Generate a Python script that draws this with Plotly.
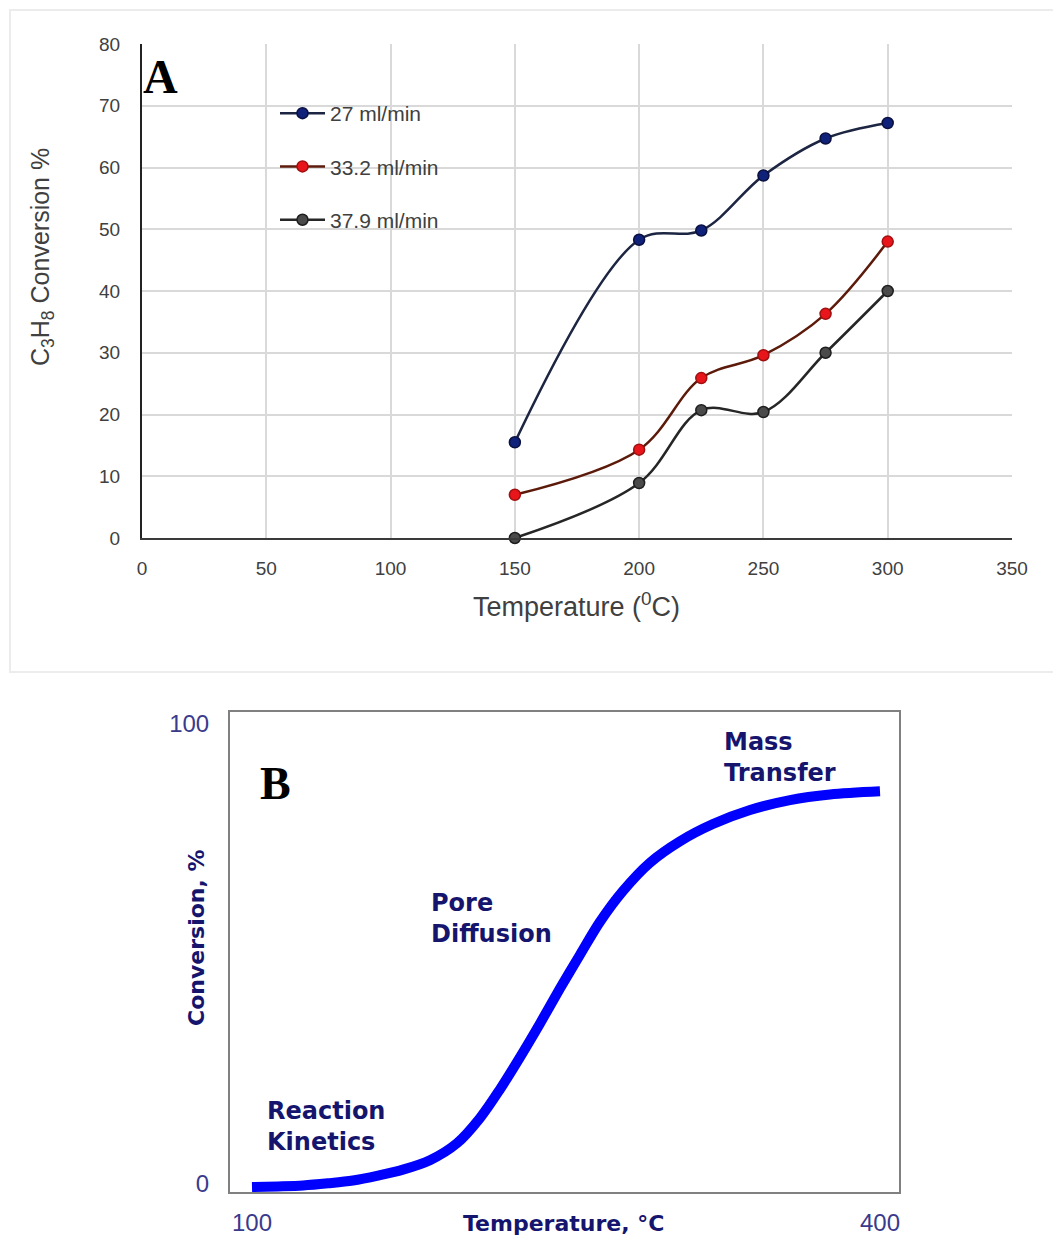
import plotly.graph_objects as go

# ---------------- Panel A data ----------------
temps_a = [150, 200, 225, 250, 275, 300]
conv_27 = [15.5, 48.3, 49.8, 58.7, 64.7, 67.2]
conv_332 = [7.0, 14.3, 25.9, 29.6, 36.3, 48.0]
conv_379 = [0.0, 8.9, 20.7, 20.4, 30.0, 40.0]
series_names = ["27 ml/min", "33.2 ml/min", "37.9 ml/min"]
x_ticks_a = [0, 50, 100, 150, 200, 250, 300, 350]
y_ticks_a = [0, 10, 20, 30, 40, 50, 60, 70, 80]

# ---------------- Panel B data ----------------
temps_b = [100, 112.4, 124.4, 136.3, 148.2, 160.2, 172.1, 185.0, 197.9, 208.9, 218.5,
           228.0, 237.6, 247.1, 256.7, 266.2, 277.2, 290.1, 304.5, 320.2, 337.9, 357.0, 376.1, 400]
conv_b = [-0.65, -0.52, -0.32, 0.15, 0.76, 1.84, 3.14, 5.19, 8.87, 14.35, 20.63,
          27.55, 34.91, 42.49, 49.85, 56.99, 63.70, 69.85, 74.52, 78.25, 81.30, 83.46, 84.68, 85.37]
x_ticks_b = [100, 400]
y_ticks_b = [0, 100]

# page body has an 8px margin, so the figure is 16px smaller than the window
OFF = 8
W, H = 1061 - 2 * OFF, 1245 - 2 * OFF
def px(xp):
    return (xp - OFF) / W
def py(yp):
    return 1 - (yp - OFF) / H

A_FONT = "Liberation Sans Narrow, Liberation Sans, Arial, sans-serif"
B_FONT = "Liberation Sans, Arial, sans-serif"
B_BOLD = "DejaVu Sans, Verdana, sans-serif"
SERIF = "Liberation Serif, Times New Roman, serif"
NAVY = "#15156e"

fig = go.Figure()

line_cols = ["#1c2541", "#5c1a0a", "#262626"]
mk_cols = ["#10217a", "#e8161b", "#4a4a4a"]
mk_edges = ["#0a1040", "#a01010", "#1e1e1e"]
for i, (ys, name) in enumerate(zip([conv_27, conv_332, conv_379], series_names)):
    fig.add_trace(go.Scatter(
        x=temps_a, y=ys, name=name, mode="lines+markers",
        line=dict(color=line_cols[i], width=2.5, shape="spline", smoothing=1.0),
        marker=dict(color=mk_cols[i], size=11, line=dict(color=mk_edges[i], width=1.5)),
        legendgroup=f"g{i}", cliponaxis=False,
        xaxis="x", yaxis="y",
    ))

fig.add_trace(go.Scatter(
    x=temps_b, y=conv_b, mode="lines", showlegend=False, name="Conversion",
    line=dict(color="#0000ff", width=10, shape="spline", smoothing=0.9),
    xaxis="x2", yaxis="y2",
))

fig.update_layout(
    width=W, height=H,
    margin=dict(l=0, r=0, t=0, b=0, autoexpand=False),
    paper_bgcolor="white", plot_bgcolor="white",
    font=dict(family=A_FONT, color="#404040"),
    xaxis=dict(
        domain=[px(142), px(1012)], range=[0, 350], anchor="y", automargin=False,
        tickvals=x_ticks_a, showgrid=True, gridcolor="#d9d9d9", gridwidth=2,
        zeroline=False, showline=True, linecolor="#3a3a3a", linewidth=2,
        ticks="", ticklabelstandoff=12, tickfont=dict(size=19, color="#404040"),
        fixedrange=True,
    ),
    yaxis=dict(
        domain=[py(538), py(44)], range=[0, 80], anchor="x", automargin=False,
        tickvals=y_ticks_a, showgrid=True, gridcolor="#d9d9d9", gridwidth=2,
        zeroline=False, showline=True, linecolor="#222222", linewidth=2,
        ticks="", ticklabelstandoff=16, tickfont=dict(size=19, color="#404040"),
        fixedrange=True,
    ),
    xaxis2=dict(
        domain=[px(230), px(899)], range=[89.49, 409.08], anchor="y2", automargin=False,
        tickvals=x_ticks_b, showgrid=False, zeroline=False,
        showline=True, mirror=True, linecolor="#808080", linewidth=2,
        ticks="", ticklabelstandoff=8,
        tickfont=dict(family=B_FONT, size=24, color="#3a3a8c"),
        fixedrange=True,
    ),
    yaxis2=dict(
        domain=[py(1192), py(712)], range=[-1.73, 102.6], anchor="x2", automargin=False,
        tickvals=y_ticks_b, showgrid=False, zeroline=False,
        showline=True, mirror=True, linecolor="#808080", linewidth=2,
        ticks="", ticklabelstandoff=14,
        tickfont=dict(family=B_FONT, size=24, color="#3a3a8c"),
        fixedrange=True,
    ),
    legend=dict(
        x=px(275), y=py(93), xanchor="left", yanchor="top",
        bgcolor="rgba(0,0,0,0)", traceorder="grouped", tracegroupgap=23,
        itemwidth=45,
        font=dict(family=A_FONT, size=21, color="#404040"),
    ),
    showlegend=True,
)

# Panel A frame
fig.add_shape(type="rect", xref="paper", yref="paper",
              x0=px(10), x1=px(1075), y0=py(672), y1=py(10),
              line=dict(color="#ececec", width=2), layer="below")

def note(x, y, text, size, color, family, angle=0, xref="paper", yref="paper",
         xanchor="center", yanchor="middle", align="center"):
    return dict(x=x, y=y, xref=xref, yref=yref, text=text, showarrow=False,
                textangle=angle, xanchor=xanchor, yanchor=yanchor, align=align,
                font=dict(family=family, size=size, color=color))

ann = [
    note(px(42), py(257), "C<sub>3</sub>H<sub>8</sub> Conversion %", 25, "#404040", A_FONT, angle=-90),
    note(px(576), py(605), "Temperature (<sup>0</sup>C)", 27, "#404040", A_FONT),
    note(px(160), py(77), "<b>A</b>", 48, "black", SERIF),
    note(px(275), py(783), "<b>B</b>", 46, "black", SERIF),
    note(px(196), py(938), "<b>Conversion, %</b>", 22, NAVY, B_BOLD, angle=-90),
    note(px(563), py(1223), "<b>Temperature, °C</b>", 22, NAVY, B_BOLD),
    note(106.0, 19.3, "<b>Reaction<br>Kinetics</b>", 24, NAVY, B_BOLD,
         xref="x2", yref="y2", xanchor="left", yanchor="top", align="left"),
    note(184.5, 64.6, "<b>Pore<br>Diffusion</b>", 24, NAVY, B_BOLD,
         xref="x2", yref="y2", xanchor="left", yanchor="top", align="left"),
    note(324.5, 99.6, "<b>Mass<br>Transfer</b>", 24, NAVY, B_BOLD,
         xref="x2", yref="y2", xanchor="left", yanchor="top", align="left"),
]
fig.update_layout(annotations=ann)

fig.write_html("out.html")
